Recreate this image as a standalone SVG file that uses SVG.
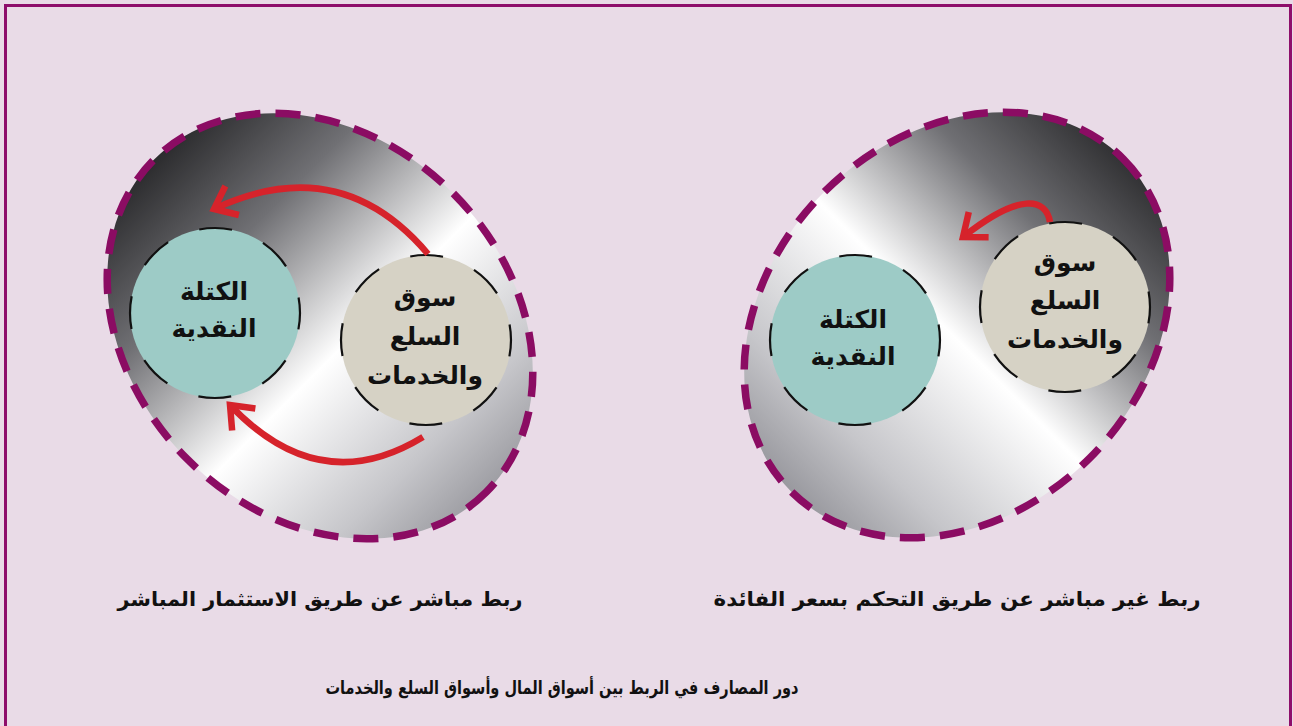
<svg xmlns="http://www.w3.org/2000/svg" width="1293" height="726" viewBox="0 0 1293 726">
  <style>
    .zone { stroke: #8b0c63; stroke-width: 7.5; stroke-dasharray: 25 15; }
    .node { stroke: #111; stroke-width: 2.2; stroke-dasharray: 33 33.76; stroke-dashoffset: 16.5; }
    .money { fill: #9dcbc6; }
    .goods { fill: #d6d2c5; }
    .lbl { font-family: "DejaVu Sans", "Noto Sans", sans-serif; font-weight: bold; font-size: 25px; fill: #111; text-anchor: middle; }
    .cap { font-family: "DejaVu Sans", "Noto Sans", sans-serif; font-weight: bold; font-size: 20px; fill: #111; text-anchor: middle; }
    .title { font-size: 18.5px; }
    .flow { fill: none; stroke: #d6232b; stroke-width: 6.5; }
  </style>
  <defs>
    <!-- gradients are given in page space; gradientTransform undoes the ellipse rotation -->
    <linearGradient id="shadeL" gradientUnits="userSpaceOnUse" x1="150" y1="150" x2="510" y2="510" gradientTransform="rotate(-45 320 326)">
      <stop offset="0" stop-color="#262628"/>
      <stop offset="0.25" stop-color="#707074"/>
      <stop offset="0.54" stop-color="#ffffff"/>
      <stop offset="0.8" stop-color="#c6c6ca"/>
      <stop offset="1" stop-color="#8e8e94"/>
    </linearGradient>
    <linearGradient id="shadeR" gradientUnits="userSpaceOnUse" x1="1137" y1="145" x2="777" y2="505" gradientTransform="rotate(45 957 325)">
      <stop offset="0" stop-color="#262628"/>
      <stop offset="0.25" stop-color="#707074"/>
      <stop offset="0.52" stop-color="#ffffff"/>
      <stop offset="0.8" stop-color="#c6c6ca"/>
      <stop offset="1" stop-color="#8e8e94"/>
    </linearGradient>
    <marker id="head" markerUnits="userSpaceOnUse" orient="auto" overflow="visible" markerWidth="1" markerHeight="1">
      <path d="M-20,-16 L0,0 L-20,16" fill="none" stroke="#d6232b" stroke-width="6.5" stroke-linejoin="miter"/>
    </marker>
  </defs>

  <!-- page background and frame -->
  <rect x="0" y="0" width="1293" height="726" fill="#e9dbe7"/>
  <path d="M5.5,730 V5.5 H1290.5 V730" fill="none" stroke="#8e0e6b" stroke-width="3"/>

  <!-- direct link panel -->
  <g id="zone-direct">
    <ellipse class="zone" cx="320" cy="326" rx="235" ry="188" transform="rotate(45 320 326)" fill="url(#shadeL)"/>
  </g>
  <g id="money-direct">
    <circle class="node money" cx="215" cy="313" r="85"/>
    <text class="lbl" x="214" y="300">الكتلة</text>
    <text class="lbl" x="214" y="337">النقدية</text>
  </g>
  <g id="goods-direct">
    <circle class="node goods" cx="426" cy="340" r="85"/>
    <text class="lbl" x="425" y="306">سوق</text>
    <text class="lbl" x="425" y="345">السلع</text>
    <text class="lbl" x="425" y="384">والخدمات</text>
  </g>

  <!-- indirect link panel -->
  <g id="zone-indirect">
    <ellipse class="zone" cx="957" cy="325" rx="235" ry="188" transform="rotate(-45 957 325)" fill="url(#shadeR)"/>
  </g>
  <g id="money-indirect">
    <circle class="node money" cx="855" cy="340" r="85"/>
    <text class="lbl" x="853" y="328">الكتلة</text>
    <text class="lbl" x="853" y="365">النقدية</text>
  </g>
  <g id="goods-indirect">
    <circle class="node goods" cx="1065" cy="307" r="85"/>
    <text class="lbl" x="1065" y="271">سوق</text>
    <text class="lbl" x="1065" y="309">السلع</text>
    <text class="lbl" x="1065" y="348">والخدمات</text>
  </g>

  <!-- flows between the markets -->
  <g id="connectors">
    <path class="flow" d="M428,254 Q340,150 214,209" marker-end="url(#head)"/>
    <path class="flow" d="M423,437 Q320,500 230,405" marker-end="url(#head)"/>
    <path class="flow" d="M1050,222 C1046,198 1020,192 963,237" marker-end="url(#head)"/>
  </g>

  <!-- captions -->
  <g id="captions">
    <text class="cap" x="320" y="606" textLength="405" lengthAdjust="spacingAndGlyphs">ربط مباشر عن طريق الاستثمار المباشر</text>
    <text class="cap" x="957" y="606" textLength="487" lengthAdjust="spacingAndGlyphs">ربط غير مباشر عن طريق التحكم بسعر الفائدة</text>
    <text class="cap title" x="562" y="694" textLength="473" lengthAdjust="spacingAndGlyphs">دور المصارف في الربط بين أسواق المال وأسواق السلع والخدمات</text>
  </g>
</svg>
